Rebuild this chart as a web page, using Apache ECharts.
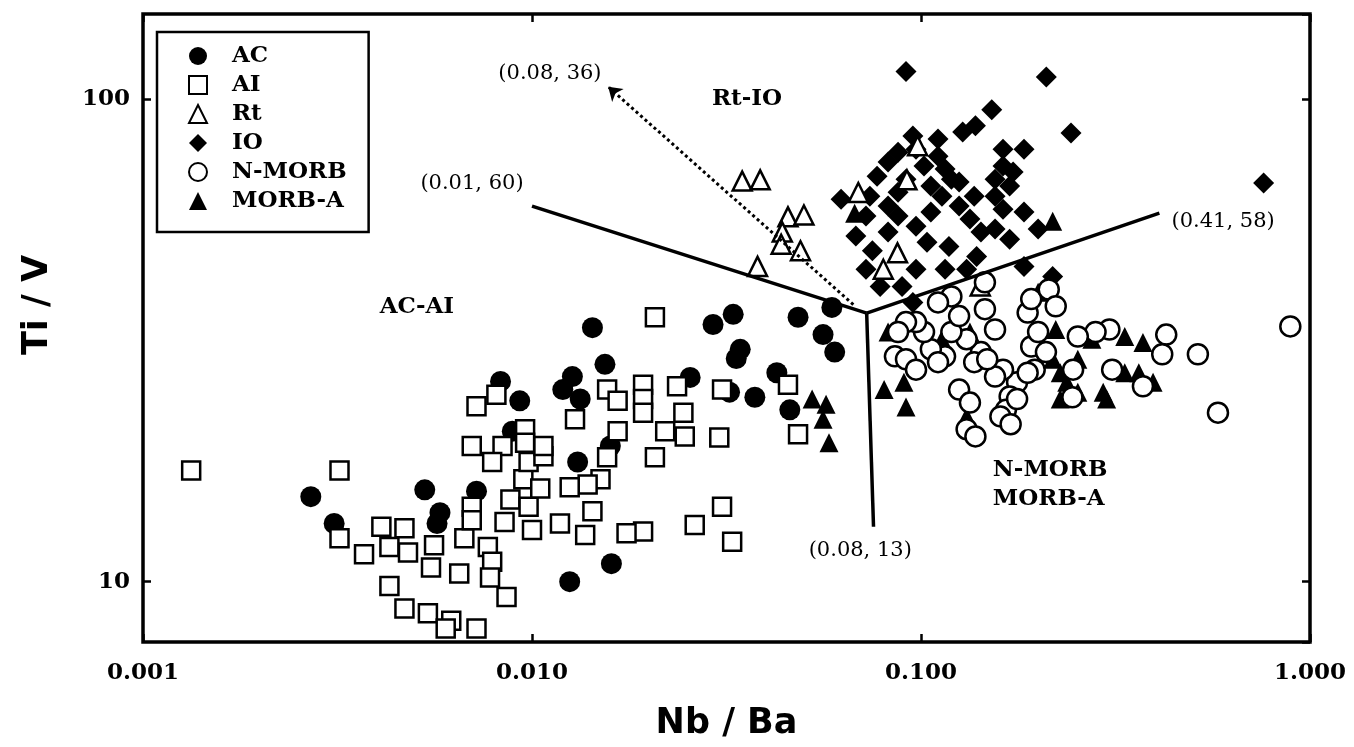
<!DOCTYPE html>
<html>
<head>
<meta charset="utf-8">
<title>Ti/V vs Nb/Ba</title>
<script src="https://cdn.jsdelivr.net/npm/echarts@6/dist/echarts.min.js"></script>
<style>
  html, body { margin: 0; padding: 0; background: #fff; }
  #chart { width: 1354px; height: 747px; }
</style>
</head>
<body>
<div id="chart"></div>
<script>
// each point is [Nb/Ba, Ti/V]
const acPoints = [
  [0.0027, 15.0], [0.0031, 13.2], [0.0053, 15.5], [0.0058, 13.9], [0.0057, 13.2], [0.0072, 15.4],
  [0.0089, 20.5], [0.0083, 26.0], [0.0093, 23.7], [0.0143, 33.6], [0.0154, 28.2], [0.0127, 26.6],
  [0.0120, 25.0], [0.0133, 23.9], [0.0131, 17.7], [0.0159, 19.1], [0.0160, 10.9], [0.0125, 10.0],
  [0.0329, 35.8], [0.0292, 34.1], [0.0343, 30.3], [0.0335, 29.0], [0.0483, 35.3], [0.059, 37.0],
  [0.056, 32.5], [0.060, 29.9], [0.0426, 27.1], [0.0322, 24.7], [0.0374, 24.1], [0.0255, 26.5],
  [0.046, 22.7]
]

const aiPoints = [
  [0.00133, 17.0], [0.0032, 17.0], [0.0032, 12.3], [0.0037, 11.4], [0.0041, 13.0], [0.0047, 12.9],
  [0.0043, 11.8], [0.0048, 11.5], [0.0043, 9.8], [0.0047, 8.8], [0.0054, 8.6], [0.0062, 8.3],
  [0.0072, 8.0], [0.0060, 8.0], [0.0056, 11.9], [0.0055, 10.7], [0.0065, 10.4], [0.0067, 12.3],
  [0.0070, 14.3], [0.0070, 13.4], [0.0077, 11.8], [0.0079, 11.0], [0.0078, 10.2], [0.0086, 9.3],
  [0.0085, 13.3], [0.0100, 12.8], [0.0088, 14.8], [0.0098, 14.3], [0.0095, 16.3], [0.0098, 17.7],
  [0.0096, 20.7], [0.0096, 19.4], [0.0070, 19.1], [0.0084, 19.1], [0.0079, 17.7], [0.0072, 23.1],
  [0.0081, 24.4], [0.0207, 35.3], [0.0156, 25.0], [0.0193, 25.6], [0.0236, 25.4], [0.0308, 25.0],
  [0.0455, 25.6], [0.0129, 21.7], [0.0166, 23.7], [0.0193, 23.9], [0.0193, 22.4], [0.0166, 20.5],
  [0.0156, 18.1], [0.0150, 16.3], [0.0139, 15.9], [0.0125, 15.7], [0.0220, 20.5], [0.0247, 20.0],
  [0.0245, 22.4], [0.0303, 19.9], [0.0207, 18.1], [0.0483, 20.2], [0.0308, 14.3], [0.0262, 13.1],
  [0.0327, 12.1], [0.0193, 12.7], [0.0175, 12.6], [0.0137, 12.5], [0.0143, 14.0], [0.0118, 13.2],
  [0.0107, 18.2], [0.0105, 15.6], [0.0107, 19.1]
]

const rtPoints = [
  [0.0347, 67.6], [0.0386, 68.0], [0.0455, 57.0], [0.050, 57.5], [0.044, 53.0], [0.0437, 50.0],
  [0.049, 48.5], [0.038, 45.0], [0.069, 64.0], [0.087, 48.0], [0.080, 44.4], [0.142, 41.0],
  [0.092, 68.0], [0.098, 80.0]
]

const ioPoints = [
  [0.0915, 114], [0.21, 111], [0.152, 95], [0.138, 88], [0.243, 85], [0.76, 67],
  [0.0953, 83.8], [0.0823, 74.0], [0.0873, 77.6], [0.0971, 78.7], [0.1106, 82.6], [0.1018, 72.6],
  [0.1153, 71.6], [0.1253, 67.3], [0.106, 66.0], [0.0915, 68.2], [0.0771, 69.2], [0.0623, 62.0],
  [0.0739, 62.9], [0.0823, 60.0], [0.0722, 57.2], [0.0873, 57.2], [0.0971, 54.5], [0.106, 58.3],
  [0.1132, 62.9], [0.1253, 60.0], [0.1336, 56.4], [0.1426, 53.0], [0.1625, 78.7], [0.184, 78.7],
  [0.1725, 70.6], [0.169, 66.0], [0.155, 62.9], [0.1625, 59.1], [0.184, 58.3], [0.200, 53.8],
  [0.155, 53.8], [0.169, 51.2], [0.0823, 53.0], [0.1036, 50.5], [0.118, 49.5], [0.139, 47.2],
  [0.0971, 44.4], [0.0722, 44.4], [0.0785, 40.9], [0.0894, 40.9], [0.1153, 44.4], [0.131, 44.4],
  [0.184, 45.0], [0.218, 42.9], [0.0953, 37.9], [0.1625, 72.6], [0.155, 68.2], [0.128, 85.4],
  [0.1106, 76.1], [0.1197, 68.2], [0.137, 62.9], [0.0873, 64.1], [0.068, 52.0], [0.075, 48.5]
]

const nmorbPoints = [
  [0.89, 33.8], [0.515, 29.6], [0.58, 22.4], [0.427, 32.5], [0.417, 29.6], [0.305, 33.3],
  [0.281, 32.9], [0.253, 32.2], [0.310, 27.5], [0.372, 25.4], [0.246, 27.5], [0.245, 24.1],
  [0.192, 30.7], [0.200, 32.9], [0.2095, 29.9], [0.196, 27.5], [0.1766, 25.9], [0.1625, 27.5],
  [0.169, 24.2], [0.1653, 22.7], [0.155, 26.6], [0.1426, 29.9], [0.155, 33.3], [0.146, 36.7],
  [0.131, 31.8], [0.1197, 32.9], [0.1253, 35.5], [0.1197, 39.0], [0.1106, 37.9], [0.1153, 29.3],
  [0.106, 30.3], [0.1018, 32.9], [0.0971, 34.5], [0.0915, 34.5], [0.0873, 32.9], [0.0857, 29.3],
  [0.0915, 28.9], [0.0971, 27.5], [0.1106, 28.5], [0.1253, 25.0], [0.1336, 23.5], [0.131, 20.7],
  [0.146, 41.7], [0.188, 36.1], [0.192, 38.5], [0.213, 40.3], [0.222, 37.2], [0.137, 28.5],
  [0.148, 28.9], [0.188, 27.1], [0.1766, 23.9], [0.138, 20.0], [0.160, 22.0], [0.170, 21.2]
]

const morbaPoints = [
  [0.0525, 23.9], [0.057, 23.3], [0.056, 21.7], [0.058, 19.4], [0.218, 55.8], [0.200, 39.8],
  [0.0823, 32.9], [0.0804, 25.0], [0.0904, 25.9], [0.0915, 23.0], [0.1132, 31.8], [0.1336, 32.9],
  [0.222, 33.3], [0.237, 25.9], [0.253, 24.7], [0.228, 23.9], [0.294, 24.7], [0.300, 23.9],
  [0.275, 31.8], [0.334, 32.2], [0.372, 31.3], [0.363, 27.1], [0.395, 25.9], [0.334, 27.1],
  [0.253, 28.9], [0.218, 28.9], [0.228, 27.1], [0.131, 22.0], [0.0675, 58.0]
]

// field boundaries and the dotted trend arrow
const boundarySegments = [
  [[0.01, 60], [0.0725, 36]],
  [[0.0725, 36], [0.41, 58]],
  [[0.0725, 36], [0.0755, 13]]
]
const trendArrow = [[0.067, 37.5], [0.0157, 106]]

const fieldNames = ['AC-AI', 'Rt-IO', 'N-MORB\nMORB-A']
const fieldNameAt = [[0.00506, 37.0], [0.0357, 100], [0.153, 15.9]]
const pointNames = ['(0.08, 36)', '(0.01, 60)', '(0.41, 58)', '(0.08, 13)']
const pointNameAt = [[0.01112, 112.7], [0.00701, 66.7], [0.598, 55.8], [0.0698, 11.6]]

const xTickLabels = ['0.001', '0.010', '0.100', '1.000']
const yTickLabels = ['10', '100']
const legendNames = ['AC', 'AI', 'Rt', 'IO', 'N-MORB', 'MORB-A']

const serif = 'DejaVu Serif'
const filled = { color: '#000', borderColor: '#000', borderWidth: 0, opacity: 1 }
const hollow = { color: '#fff', borderColor: '#000', borderWidth: 2.5, opacity: 1 }

function scatter(name, data, symbol, size, style) {
  return {
    name,
    type: 'scatter',
    data,
    symbol,
    symbolSize: size,
    itemStyle: style,
    silent: true
  }
}

const baseX = {
  type: 'log',
  logBase: 10,
  min: 0.001,
  max: 1,
  axisLine: { show: false },
  axisTick: { show: true, inside: true, length: 8, lineStyle: { color: '#000', width: 2.5 } },
  splitLine: { show: false }
}
const baseY = {
  type: 'log',
  logBase: 10,
  min: 7.5,
  max: 150,
  axisLine: { show: false },
  axisTick: { show: true, inside: true, length: 8, lineStyle: { color: '#000', width: 2.5 } },
  splitLine: { show: false }
}

const chart = echarts.init(document.getElementById('chart'))

chart.setOption({
  animation: false,
  backgroundColor: '#fff',
  grid: {
    left: 143,
    right: 44,
    top: 14,
    bottom: 105,
    show: true,
    borderColor: '#000',
    borderWidth: 3.5,
    backgroundColor: 'transparent'
  },
  legend: {
    data: legendNames,
    orient: 'vertical',
    left: 157,
    top: 32,
    padding: [11, 22, 18, 31],
    itemGap: 3,
    itemWidth: 18,
    itemHeight: 18,
    borderColor: '#000',
    borderWidth: 2.5,
    selectedMode: false,
    textStyle: {
      fontFamily: serif,
      fontWeight: 'bold',
      fontSize: 23,
      lineHeight: 26,
      color: '#000',
      padding: [0, 0, 0, 20]
    }
  },
  xAxis: [
    {
      ...baseX,
      position: 'bottom',
      name: 'Nb / Ba',
      nameLocation: 'middle',
      nameGap: 64,
      nameTextStyle: { fontFamily: 'DejaVu Sans', fontWeight: 'bold', fontSize: 35, color: '#000' },
      axisLabel: {
        margin: 20,
        fontFamily: serif,
        fontWeight: 'bold',
        fontSize: 23,
        color: '#000',
        formatter: (v) => xTickLabels[Math.round(Math.log10(v)) + 3] || ''
      }
    },
    { ...baseX, position: 'top', axisLabel: { show: false } }
  ],
  yAxis: [
    {
      ...baseY,
      position: 'left',
      name: 'Ti / V',
      nameLocation: 'middle',
      nameGap: 88,
      nameRotate: 90,
      nameTextStyle: {
        fontFamily: 'DejaVu Sans',
        fontWeight: 'bold',
        fontSize: 35,
        color: '#000',
        padding: [0, 0, 0, 46]
      },
      axisLabel: {
        margin: 13,
        showMinLabel: false,
        showMaxLabel: false,
        fontFamily: serif,
        fontWeight: 'bold',
        fontSize: 23,
        color: '#000',
        formatter: (v) => {
          const i = Math.round(Math.log10(v)) - 1
          return Math.abs(Math.log10(v) - Math.round(Math.log10(v))) < 1e-6 ? (yTickLabels[i] || '') : ''
        }
      }
    },
    { ...baseY, position: 'right', axisLabel: { show: false } }
  ],
  series: [
    scatter('AC', acPoints, 'circle', 21, filled),
    scatter('AI', aiPoints, 'rect', 18, hollow),
    scatter('IO', ioPoints, 'diamond', 21, filled),
    scatter('Rt', rtPoints, 'triangle', 19, hollow),
    scatter('MORB-A', morbaPoints, 'triangle', 19, filled),
    scatter('N-MORB', nmorbPoints, 'circle', 20, hollow),
    {
      name: 'boundaries',
      type: 'line',
      data: [],
      silent: true,
      markLine: {
        silent: true,
        symbol: 'none',
        label: { show: false },
        lineStyle: { color: '#000', width: 3.5, type: 'solid', opacity: 1 },
        data: boundarySegments.map((seg) => [{ coord: seg[0] }, { coord: seg[1] }])
      }
    },
    {
      name: 'trend',
      type: 'line',
      data: [],
      silent: true,
      markLine: {
        silent: true,
        symbol: ['none', 'arrow'],
        symbolSize: 13,
        label: { show: false },
        lineStyle: { color: '#000', width: 3, type: 'dotted', opacity: 1 },
        data: [[{ coord: trendArrow[0] }, { coord: trendArrow[1] }]]
      }
    },
    {
      name: 'fields',
      type: 'scatter',
      symbolSize: 0,
      silent: true,
      z: 5,
      itemStyle: { opacity: 1 },
      data: fieldNames.map((name, i) => ({
        name,
        value: fieldNameAt[i],
        label: i === 2 ? { align: 'left', lineHeight: 29 } : {}
      })),
      label: {
        show: true,
        position: 'inside',
        formatter: (p) => p.name,
        fontFamily: serif,
        fontWeight: 'bold',
        fontSize: 23,
        color: '#000'
      }
    },
    {
      name: 'points',
      type: 'scatter',
      symbolSize: 0,
      silent: true,
      z: 5,
      itemStyle: { opacity: 1 },
      data: pointNames.map((name, i) => ({ name, value: pointNameAt[i] })),
      label: {
        show: true,
        position: 'inside',
        formatter: (p) => p.name,
        fontFamily: serif,
        fontSize: 21,
        color: '#000'
      }
    }
  ]
})
</script>
</body>
</html>
